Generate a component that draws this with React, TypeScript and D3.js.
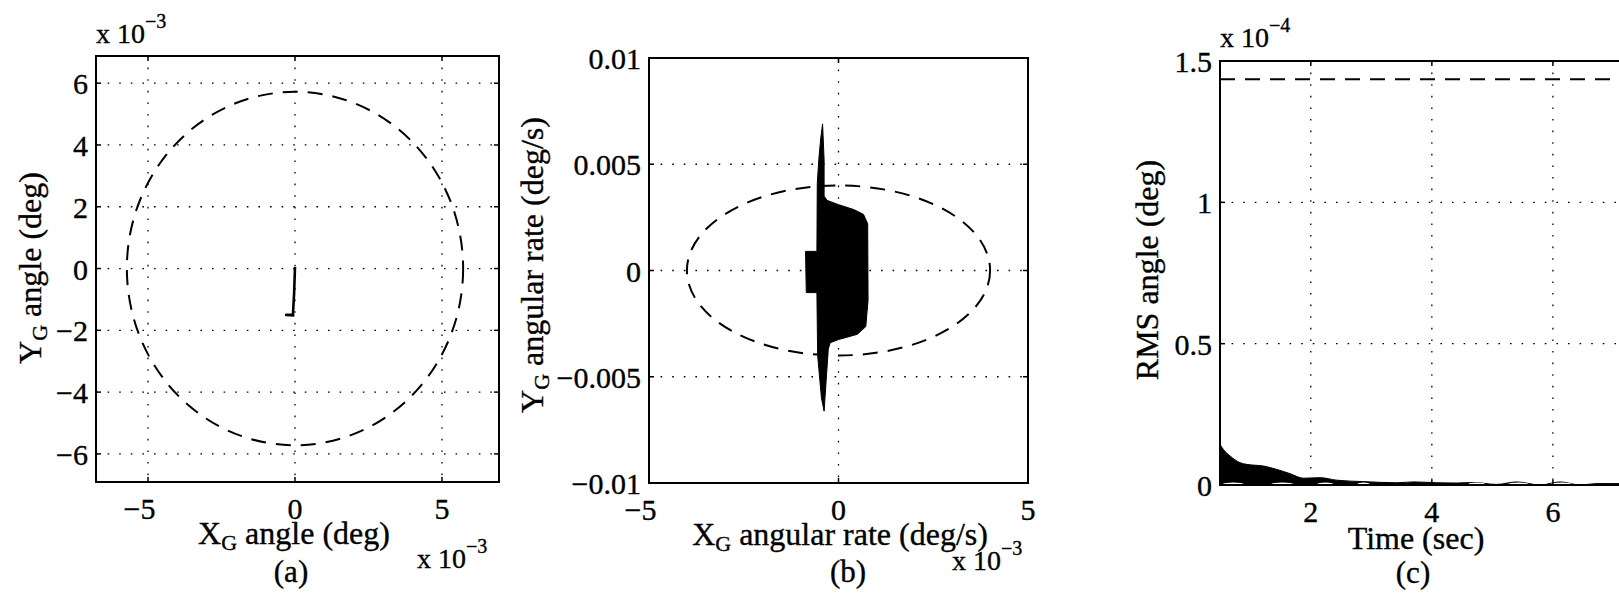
import React from "react";
import * as d3 from "d3";

const FONT = "'Liberation Serif','Times New Roman',Times,serif";
const TICK_FS = 30;
const LABEL_FS = 32;
const SUB_FS = 22;
const EXP_BASE_FS = 28;
const EXP_FS = 20;
const INK = { stroke: "#000", strokeWidth: 0.35 };

// ---------- panel (a) data ----------
const aXTicks = [-5, 0, 5];
const aXTickLabels = ["−5", "0", "5"];
const aYTicks = [-6, -4, -2, 0, 2, 4, 6];
const aYTickLabels = ["−6", "−4", "−2", "0", "2", "4", "6"];
const aXDomain: [number, number] = [-6.77, 6.94];
const aYDomain: [number, number] = [-6.91, 6.88];
const aBoundRadius = 5.72;
const aTrajX = [0.0, -0.03, -0.07, -0.3, -0.02];
const aTrajY = [0.05, -0.8, -1.5, -1.5, -1.52];

// ---------- panel (b) data (x1e-3) ----------
const bXTicks = [-5, 0, 5];
const bXTickLabels = ["−5", "0", "5"];
const bYTicks = [-10, -5, 0, 5, 10];
const bYTickLabels = ["−0.01", "−0.005", "0", "0.005", "0.01"];
const bXDomain: [number, number] = [-5, 5];
const bYDomain: [number, number] = [-10, 10];
const bBoundRx = 4.0;
const bBoundRy = 4.0;
const bEnvX = [-0.42, -0.38, -0.38, -0.3, 0.0, 0.4, 0.66, 0.77, 0.78, 0.72, 0.5, 0.2, 0.0, -0.22, -0.27, -0.38, -0.45, -0.55, -0.57, -0.85, -0.87, -0.57, -0.56, -0.52, -0.47];
const bEnvY = [6.9, 5.2, 3.5, 3.3, 3.1, 2.87, 2.64, 2.2, -1.4, -2.64, -3.0, -3.15, -3.25, -3.4, -3.7, -6.62, -6.0, -4.0, -1.04, -1.04, 0.9, 0.9, 4.1, 5.2, 6.2];

// ---------- panel (c) data (x1e-4) ----------
const cXTicks = [2, 4, 6, 8];
const cXTickLabels = ["2", "4", "6", ""];
const cYTicks = [0, 0.5, 1, 1.5];
const cYTickLabels = ["0", "0.5", "1", "1.5"];
const cXDomain: [number, number] = [0.5, 10];
const cYDomain: [number, number] = [0, 1.5];
const cBound = 1.435;
const cTime = [0.5, 0.555, 0.665, 0.83, 0.94, 1.22, 1.44, 1.66, 1.88, 2.15, 2.43, 2.87, 3.42, 3.7, 4.08, 4.41, 4.69, 5.07, 5.4, 5.79, 6.12, 6.45, 6.73, 7.04, 7.4];
const cRms = [0.144, 0.126, 0.103, 0.079, 0.073, 0.067, 0.055, 0.04, 0.024, 0.026, 0.017, 0.012, 0.008, 0.011, 0.008, 0.007, 0.009, 0.002, 0.011, 0.0, 0.011, 0.0, 0.005, 0.005, 0.004];
// light gaps visible inside the filled band (centre time, half-width in sec)
const cGapT = [0.72, 1.53, 2.24, 2.87, 4.74, 5.43, 6.14];
const cGapHalf = [0.17, 0.18, 0.13, 0.1, 0.14, 0.17, 0.17];
const cGapLevel = 0.004;

type Box = { left: number; right: number; top: number; bottom: number };

const GRID_STYLE = { stroke: "#000", strokeWidth: 1.3, strokeDasharray: "1.6 10" };

function Frame(props: {
  box: Box;
  xs: d3.ScaleLinear<number, number>;
  ys: d3.ScaleLinear<number, number>;
  xTicks: number[];
  xTickLabels: string[];
  yTicks: number[];
  yTickLabels: string[];
  id: string;
  children?: React.ReactNode;
}) {
  const { box, xs, ys, xTicks, xTickLabels, yTicks, yTickLabels, id } = props;
  const tl = 5;
  return (
    <g>
      <defs>
        <clipPath id={id}>
          <rect x={box.left} y={box.top} width={box.right - box.left} height={box.bottom - box.top} />
        </clipPath>
      </defs>
      {xTicks.map((t, i) => (
        <line key={"gx" + i} x1={xs(t)} x2={xs(t)} y1={box.top} y2={box.bottom} {...GRID_STYLE} />
      ))}
      {yTicks.map((t, i) => (
        <line key={"gy" + i} x1={box.left} x2={box.right} y1={ys(t)} y2={ys(t)} {...GRID_STYLE} />
      ))}
      <g clipPath={`url(#${id})`}>{props.children}</g>
      {xTicks.map((t, i) => (
        <g key={"tx" + i}>
          <line x1={xs(t)} x2={xs(t)} y1={box.bottom} y2={box.bottom - tl} stroke="#000" strokeWidth={1.5} />
          <line x1={xs(t)} x2={xs(t)} y1={box.top} y2={box.top + tl} stroke="#000" strokeWidth={1.5} />
        </g>
      ))}
      {yTicks.map((t, i) => (
        <g key={"ty" + i}>
          <line x1={box.left} x2={box.left + tl} y1={ys(t)} y2={ys(t)} stroke="#000" strokeWidth={1.5} />
          <line x1={box.right} x2={box.right - tl} y1={ys(t)} y2={ys(t)} stroke="#000" strokeWidth={1.5} />
        </g>
      ))}
      <rect x={box.left} y={box.top} width={box.right - box.left} height={box.bottom - box.top} fill="none" stroke="#000" strokeWidth={2} />
      {xTicks.map((t, i) => {
        const lab = xTickLabels[i];
        if (!lab) return null;
        const neg = lab.startsWith("−");
        return (
          <text key={"lx" + i} x={xs(t) - (neg ? 0.282 * TICK_FS : 0)} y={box.bottom + 37} fontSize={TICK_FS} textAnchor="middle" fontFamily={FONT} {...INK}>
            {lab}
          </text>
        );
      })}
      {yTicks.map((t, i) => (
        <text key={"ly" + i} x={box.left - 8} y={ys(t) + 11} fontSize={TICK_FS} textAnchor="end" fontFamily={FONT} {...INK}>
          {yTickLabels[i]}
        </text>
      ))}
    </g>
  );
}

function Exp(props: { x: number; y: number; e: string }) {
  return (
    <text x={props.x} y={props.y} fontSize={EXP_BASE_FS} fontFamily={FONT} {...INK}>
      x 10
      <tspan dy={-15} fontSize={EXP_FS}>
        {props.e}
      </tspan>
    </text>
  );
}

function SubLabel(props: { main: string; sub: string; rest: string; x: number; y: number; rotate?: boolean }) {
  const t = props.rotate ? `translate(${props.x},${props.y}) rotate(-90)` : `translate(${props.x},${props.y})`;
  return (
    <text transform={t} fontSize={LABEL_FS} textAnchor="middle" fontFamily={FONT} {...INK}>
      {props.main}
      <tspan dy={6} fontSize={SUB_FS}>
        {props.sub}
      </tspan>
      <tspan dy={-6}>{props.rest}</tspan>
    </text>
  );
}

export default function App() {
  const aBox: Box = { left: 96, right: 499, top: 56, bottom: 482 };
  const axs = d3.scaleLinear().domain(aXDomain).range([aBox.left, aBox.right]);
  const ays = d3.scaleLinear().domain(aYDomain).range([aBox.bottom, aBox.top]);
  const aTraj = d3
    .line<number>()
    .x((i) => axs(aTrajX[i]))
    .y((i) => ays(aTrajY[i]))(d3.range(aTrajX.length));

  const bBox: Box = { left: 649, right: 1028, top: 58, bottom: 483 };
  const bxs = d3.scaleLinear().domain(bXDomain).range([bBox.left, bBox.right]);
  const bys = d3.scaleLinear().domain(bYDomain).range([bBox.bottom, bBox.top]);
  const bEnv =
    d3
      .line<number>()
      .x((i) => bxs(bEnvX[i]))
      .y((i) => bys(bEnvY[i]))(d3.range(bEnvX.length)) + "Z";

  const cBox: Box = { left: 1220, right: 1795, top: 61, bottom: 485 };
  const cxs = d3.scaleLinear().domain(cXDomain).range([cBox.left, cBox.right]);
  const cys = d3.scaleLinear().domain(cYDomain).range([cBox.bottom, cBox.top]);
  const cArea = d3
    .area<number>()
    .x((i) => cxs(cTime[i]))
    .y0(() => cys(0))
    .y1((i) => cys(cRms[i]))
    .curve(d3.curveMonotoneX)(d3.range(cTime.length));

  return (
    <svg width={1619} height={596} style={{ position: "absolute", left: 0, top: 0, display: "block", background: "#fff" }}>
      <rect x={0} y={0} width={1619} height={596} fill="#fff" />

      {/* ---- (a) ---- */}
      <Frame box={aBox} xs={axs} ys={ays} xTicks={aXTicks} xTickLabels={aXTickLabels} yTicks={aYTicks} yTickLabels={aYTickLabels} id="clipA">
        <ellipse cx={axs(0)} cy={ays(0)} rx={axs(aBoundRadius) - axs(0)} ry={ays(0) - ays(aBoundRadius)} fill="none" stroke="#000" strokeWidth={2} strokeDasharray="15 10" />
        <path d={aTraj || ""} fill="none" stroke="#000" strokeWidth={2.6} strokeLinejoin="round" />
      </Frame>
      <Exp x={96} y={43} e="−3" />
      <Exp x={417} y={568} e="−3" />
      <SubLabel main="X" sub="G" rest=" angle (deg)" x={294} y={544} />
      <SubLabel main="Y" sub="G" rest=" angle (deg)" x={41} y={268} rotate />
      <text x={291} y={582} fontSize={31} textAnchor="middle" fontFamily={FONT} {...INK}>
        (a)
      </text>

      {/* ---- (b) ---- */}
      <Frame box={bBox} xs={bxs} ys={bys} xTicks={bXTicks} xTickLabels={bXTickLabels} yTicks={bYTicks} yTickLabels={bYTickLabels} id="clipB">
        <ellipse cx={bxs(0)} cy={bys(0)} rx={bxs(bBoundRx) - bxs(0)} ry={bys(0) - bys(bBoundRy)} fill="none" stroke="#000" strokeWidth={2} strokeDasharray="15 10" />
        <path d={bEnv} fill="#000" stroke="#000" strokeWidth={1} strokeLinejoin="round" />
      </Frame>
      <Exp x={952} y={570} e="−3" />
      <SubLabel main="X" sub="G" rest=" angular rate (deg/s)" x={840} y={545} />
      <SubLabel main="Y" sub="G" rest=" angular rate (deg/s)" x={543} y={265} rotate />
      <text x={848} y={582} fontSize={31} textAnchor="middle" fontFamily={FONT} {...INK}>
        (b)
      </text>

      {/* ---- (c) ---- */}
      <Frame box={cBox} xs={cxs} ys={cys} xTicks={cXTicks} xTickLabels={cXTickLabels} yTicks={cYTicks} yTickLabels={cYTickLabels} id="clipC">
        <line x1={cBox.left} x2={cBox.right} y1={cys(cBound)} y2={cys(cBound)} stroke="#000" strokeWidth={2} strokeDasharray="15 10" />
        <path d={cArea || ""} fill="#000" stroke="#000" strokeWidth={1} />
        {cGapT.map((t, i) => (
          <ellipse key={"gap" + i} cx={cxs(t)} cy={cys(cGapLevel)} rx={cxs(t + cGapHalf[i]) - cxs(t)} ry={1.4} fill="#fff" />
        ))}
      </Frame>
      <Exp x={1220} y={47} e="−4" />
      <text x={1416} y={549} fontSize={LABEL_FS} textAnchor="middle" fontFamily={FONT} {...INK}>
        Time (sec)
      </text>
      <text transform="translate(1158,270) rotate(-90)" fontSize={LABEL_FS} textAnchor="middle" fontFamily={FONT} {...INK}>
        RMS angle (deg)
      </text>
      <text x={1413} y={583} fontSize={31} textAnchor="middle" fontFamily={FONT} {...INK}>
        (c)
      </text>
    </svg>
  );
}
